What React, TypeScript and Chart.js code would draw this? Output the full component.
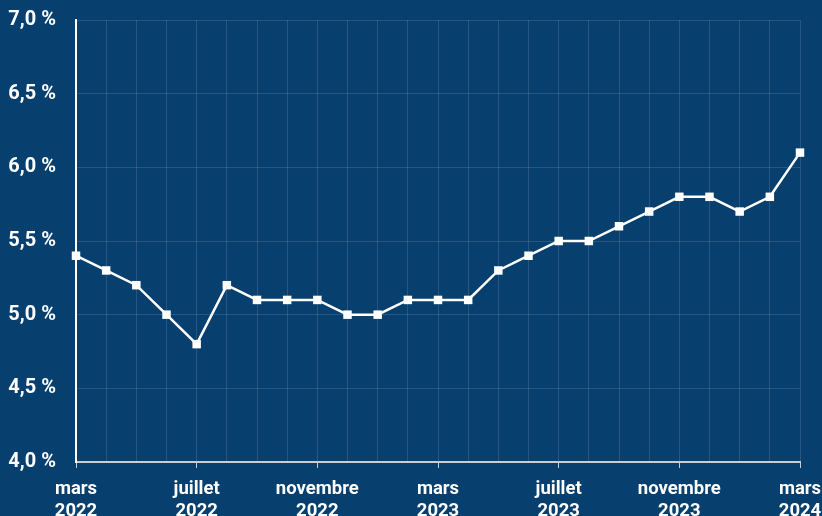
import React, { useEffect, useRef } from "react";
import { Chart, registerables } from "chart.js";

Chart.register(...registerables);

const months = [
  "mars", "avril", "mai", "juin", "juillet", "août", "septembre", "octobre", "novembre", "décembre",
  "janvier", "février", "mars", "avril", "mai", "juin", "juillet", "août", "septembre", "octobre",
  "novembre", "décembre", "janvier", "février", "mars",
];
const years = [
  "2022", "2022", "2022", "2022", "2022", "2022", "2022", "2022", "2022", "2022",
  "2023", "2023", "2023", "2023", "2023", "2023", "2023", "2023", "2023", "2023",
  "2023", "2023", "2024", "2024", "2024",
];
const values = [
  5.4, 5.3, 5.2, 5.0, 4.8, 5.2, 5.1, 5.1, 5.1, 5.0,
  5.0, 5.1, 5.1, 5.1, 5.3, 5.4, 5.5, 5.5, 5.6, 5.7,
  5.8, 5.8, 5.7, 5.8, 6.1,
];
const labelEvery = 4;
const yMin = 4.0;
const yMax = 7.0;
const yStep = 0.5;

const BG = "#073f6e";

export default function App() {
  const ref = useRef<HTMLCanvasElement | null>(null);

  useEffect(() => {
    document.body.style.margin = "0";
    document.body.style.background = BG;
    const canvas = ref.current!;
    const bgPlugin = {
      id: "bg",
      beforeDraw(chart: any) {
        const { ctx, width, height } = chart;
        ctx.save();
        ctx.fillStyle = BG;
        ctx.fillRect(0, 0, width, height);
        ctx.restore();
      },
    };
    const chart = new Chart(canvas, {
      type: "line",
      data: {
        labels: months.map((m, i) => [m, years[i]]),
        datasets: [
          {
            data: values,
            borderColor: "#ffffff",
            backgroundColor: "#ffffff",
            borderWidth: 2.5,
            pointStyle: "rect",
            pointRadius: 6,
            pointBorderWidth: 0,
            pointBackgroundColor: "#ffffff",
            tension: 0,
          },
        ],
      },
      options: {
        animation: false,
        responsive: false,
        maintainAspectRatio: false,
        layout: { padding: { top: 20, right: 22, bottom: 0, left: 0 } },
        plugins: { legend: { display: false }, tooltip: { enabled: false } },
        scales: {
          x: {
            type: "category",
            afterFit: (s: any) => {
              s.paddingLeft = 0;
              s.paddingRight = 0;
              s.height = 54;
            },
            grid: {
              color: "rgba(255,255,255,0.13)",
              lineWidth: 1,
              drawTicks: true,
              tickLength: 6,
              tickColor: (ctx: any) =>
                ctx.index % labelEvery === 0 ? "#c9ccd2" : "rgba(0,0,0,0)",
            },
            border: { color: "#c9ccd2", width: 2 },
            ticks: {
              autoSkip: false,
              maxRotation: 0,
              padding: 10,
              color: "#ffffff",
              font: { family: "Roboto", size: 18.5, weight: "bold", lineHeight: 1.22 },
              callback: (_v: any, i: number) =>
                i % labelEvery === 0 ? [months[i], years[i]] : "",
            },
          },
          y: {
            min: yMin,
            max: yMax,
            afterFit: (s: any) => {
              s.width = 76;
              s.paddingTop = 0;
              s.paddingBottom = 0;
            },
            grid: {
              color: "rgba(255,255,255,0.13)",
              lineWidth: 1,
              drawTicks: false,
            },
            border: { color: "#ffffff", width: 2 },
            ticks: {
              stepSize: yStep,
              padding: 20,
              color: "#ffffff",
              font: { family: "Roboto", size: 20, weight: "bold" },
              callback: (v: any) => Number(v).toFixed(1).replace(".", ",") + " %",
            },
          },
        },
      },
      plugins: [bgPlugin],
    });
    return () => chart.destroy();
  }, []);

  return (
    <div style={{ width: 822, height: 516, background: BG }}>
      <canvas ref={ref} width={822} height={516} style={{ display: "block" }} />
    </div>
  );
}
